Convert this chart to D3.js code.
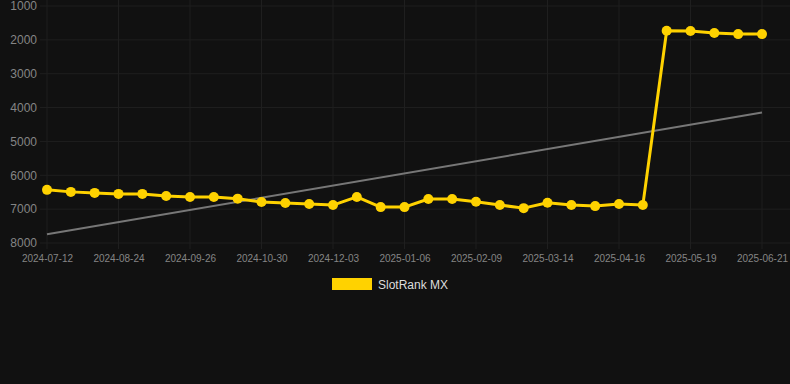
<!DOCTYPE html>
<html><head><meta charset="utf-8">
<script src="https://cdn.jsdelivr.net/npm/d3@7"></script>
<style>html,body{margin:0;padding:0;background:#111111;}svg{display:block;}</style>
</head><body>
<svg id="c" width="790" height="384"></svg>
<script>
const tickLabels = ["2024-07-12","2024-08-24","2024-09-26","2024-10-30","2024-12-03","2025-01-06","2025-02-09","2025-03-14","2025-04-16","2025-05-19","2025-06-21"];
const tickStep = 3;
const rankValues = [6430,6490,6520,6550,6550,6610,6640,6640,6690,6790,6820,6850,6880,6640,6940,6940,6700,6700,6780,6880,6970,6810,6880,6910,6850,6880,1730,1740,1800,1830,1830];
const yTicks = [1000,2000,3000,4000,5000,6000,7000,8000];
const seriesName = "SlotRank MX";

const svg = d3.select("#c");
const W = 790, H = 384;
const m = {left: 47, right: 28, top: 6, bottom: 141};
const idx = d3.range(rankValues.length);
const x = d3.scaleLinear().domain([0, rankValues.length - 1]).range([m.left, W - m.right]);
const y = d3.scaleLinear().domain([1000, 8000]).range([m.top, H - m.bottom]);

// grid
const g = svg.append("g");
g.selectAll("line.h").data(yTicks).enter().append("line")
  .attr("x1", 40).attr("x2", W).attr("y1", d => y(d)).attr("y2", d => y(d))
  .attr("stroke", "#1f1f1f").attr("stroke-width", 1);
const tickIdx = tickLabels.map((t, i) => i * tickStep);
g.selectAll("line.v").data(tickIdx).enter().append("line")
  .attr("x1", d => x(d)).attr("x2", d => x(d)).attr("y1", 0).attr("y2", y(8000) + 6)
  .attr("stroke", "#1f1f1f").attr("stroke-width", 1);

// y axis
const yAxis = d3.axisLeft(y).tickValues(yTicks).tickSize(0).tickPadding(0).tickFormat(d3.format("d"));
const ya = svg.append("g").attr("transform", "translate(37,0)").call(yAxis);
ya.select(".domain").remove();
ya.selectAll("text").attr("fill", "#858585").attr("font-family", "Liberation Sans, Arial, sans-serif").attr("font-size", 12);

// x axis
const xAxis = d3.axisBottom(x).tickValues(tickIdx).tickSize(0).tickPadding(0).tickFormat((d, i) => tickLabels[i]);
const xa = svg.append("g").attr("transform", `translate(0,${y(8000) + 12})`).call(xAxis);
xa.select(".domain").remove();
xa.selectAll("text").attr("fill", "#858585").attr("font-family", "Liberation Sans, Arial, sans-serif").attr("font-size", 10);

// trend (linear regression)
const n = rankValues.length;
const mx = d3.mean(idx), my = d3.mean(rankValues);
const slope = d3.sum(idx, i => (i - mx) * (rankValues[i] - my)) / d3.sum(idx, i => (i - mx) ** 2);
const icpt = my - slope * mx;
svg.append("line")
  .attr("x1", x(0)).attr("y1", y(icpt))
  .attr("x2", x(n - 1)).attr("y2", y(icpt + slope * (n - 1)))
  .attr("stroke", "#777").attr("stroke-width", 2);

// series
const line = d3.line().x((d, i) => x(i)).y(d => y(d));
svg.append("path").datum(rankValues).attr("d", line)
  .attr("fill", "none").attr("stroke", "#FFD200").attr("stroke-width", 3).attr("stroke-linejoin", "round");
svg.selectAll("circle").data(rankValues).enter().append("circle")
  .attr("cx", (d, i) => x(i)).attr("cy", d => y(d)).attr("r", 5).attr("fill", "#FFD200");

// legend
const lg = svg.append("g");
lg.append("rect").attr("x", 332).attr("y", 278).attr("width", 40).attr("height", 12).attr("fill", "#FFD200");
lg.append("text").attr("x", 378).attr("y", 288.5).text(seriesName)
  .attr("fill", "#ddd").attr("font-family", "Liberation Sans, Arial, sans-serif").attr("font-size", 12);
</script>
</body></html>
